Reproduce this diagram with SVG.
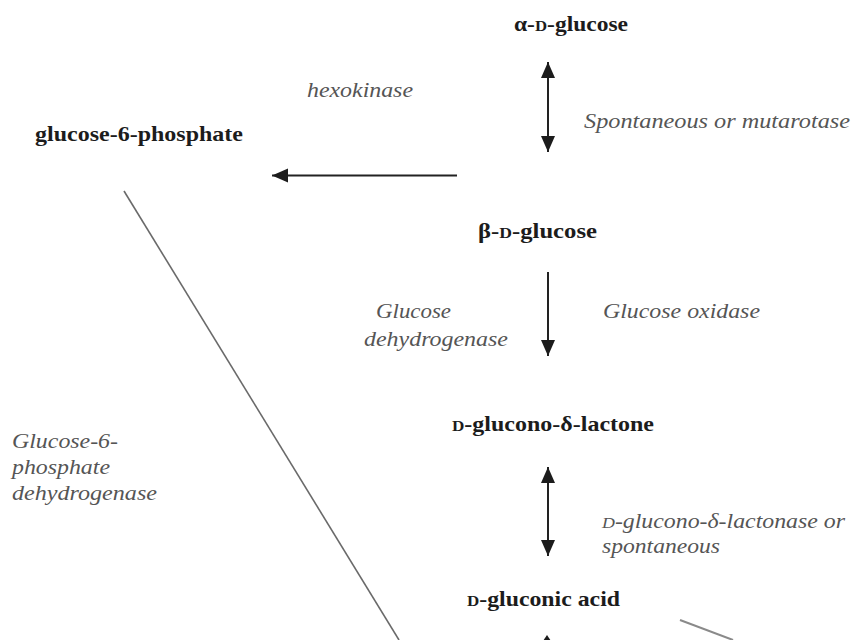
<svg xmlns="http://www.w3.org/2000/svg" width="852" height="640" viewBox="0 0 852 640">
  <style>
    .node { font-family: "Liberation Serif", "Times New Roman", serif; font-weight: bold; font-size: 21px; fill: #1c1c1c; }
    .sc { font-size: 15px; }
    .lbl { font-family: "Liberation Serif", "Times New Roman", serif; font-style: italic; font-size: 20px; fill: #555555; }
    .arr { stroke: #222; stroke-width: 2; fill: none; }
    .thin { stroke: #6a6a6a; stroke-width: 1.6; fill: none; }
    .faint { stroke: #8a8a8a; stroke-width: 2; fill: none; }
  </style>
  <defs>
    <marker id="head" markerUnits="userSpaceOnUse" markerWidth="18" markerHeight="16" refX="16" refY="7" orient="auto-start-reverse" viewBox="0 0 18 16">
      <path d="M0,0 L16,7 L0,14 z" fill="#1c1c1c"/>
    </marker>
  </defs>
  <rect width="852" height="640" fill="#ffffff"/>

  <g id="connectors">
    <line class="arr" x1="548" y1="62" x2="548" y2="152" marker-start="url(#head)" marker-end="url(#head)"/>
    <line class="arr" x1="457" y1="175.5" x2="272" y2="175.5" marker-end="url(#head)"/>
    <line class="arr" x1="548" y1="272" x2="548" y2="356" marker-end="url(#head)"/>
    <line class="arr" x1="548" y1="467" x2="548" y2="556" marker-start="url(#head)" marker-end="url(#head)"/>
    <line class="thin" x1="124" y1="191" x2="399" y2="640"/>
    <line class="faint" x1="680" y1="620" x2="733" y2="640"/>
    <polygon points="547,635 543,641 551,641" fill="#1c1c1c"/>
  </g>

  <g id="alpha-d-glucose">
    <text class="node" x="514" y="31" textLength="114" lengthAdjust="spacingAndGlyphs">α-<tspan class="sc">D</tspan>-glucose</text>
  </g>
  <g id="glucose-6-phosphate">
    <text class="node" x="35" y="141" textLength="208" lengthAdjust="spacingAndGlyphs">glucose-6-phosphate</text>
  </g>
  <g id="beta-d-glucose">
    <text class="node" x="478" y="238" textLength="119" lengthAdjust="spacingAndGlyphs">β-<tspan class="sc">D</tspan>-glucose</text>
  </g>
  <g id="d-glucono-lactone">
    <text class="node" x="452" y="431" textLength="202" lengthAdjust="spacingAndGlyphs"><tspan class="sc">D</tspan>-glucono-δ-lactone</text>
  </g>
  <g id="d-gluconic-acid">
    <text class="node" x="467" y="606" textLength="153" lengthAdjust="spacingAndGlyphs"><tspan class="sc">D</tspan>-gluconic acid</text>
  </g>

  <g id="labels">
    <text class="lbl" x="307" y="97" textLength="106" lengthAdjust="spacingAndGlyphs">hexokinase</text>
    <text class="lbl" x="584" y="128" textLength="266" lengthAdjust="spacingAndGlyphs">Spontaneous or mutarotase</text>
    <text class="lbl" x="376" y="318" textLength="75" lengthAdjust="spacingAndGlyphs">Glucose</text>
    <text class="lbl" x="364" y="346" textLength="144" lengthAdjust="spacingAndGlyphs">dehydrogenase</text>
    <text class="lbl" x="603" y="318" textLength="157" lengthAdjust="spacingAndGlyphs">Glucose oxidase</text>
    <text class="lbl" x="12" y="448" textLength="106" lengthAdjust="spacingAndGlyphs">Glucose-6-</text>
    <text class="lbl" x="12" y="474" textLength="98" lengthAdjust="spacingAndGlyphs">phosphate</text>
    <text class="lbl" x="12" y="500" textLength="145" lengthAdjust="spacingAndGlyphs">dehydrogenase</text>
    <text class="lbl" x="602" y="528" textLength="243" lengthAdjust="spacingAndGlyphs"><tspan class="sc">D</tspan>-glucono-δ-lactonase or</text>
    <text class="lbl" x="602" y="553" textLength="118" lengthAdjust="spacingAndGlyphs">spontaneous</text>
  </g>
</svg>
